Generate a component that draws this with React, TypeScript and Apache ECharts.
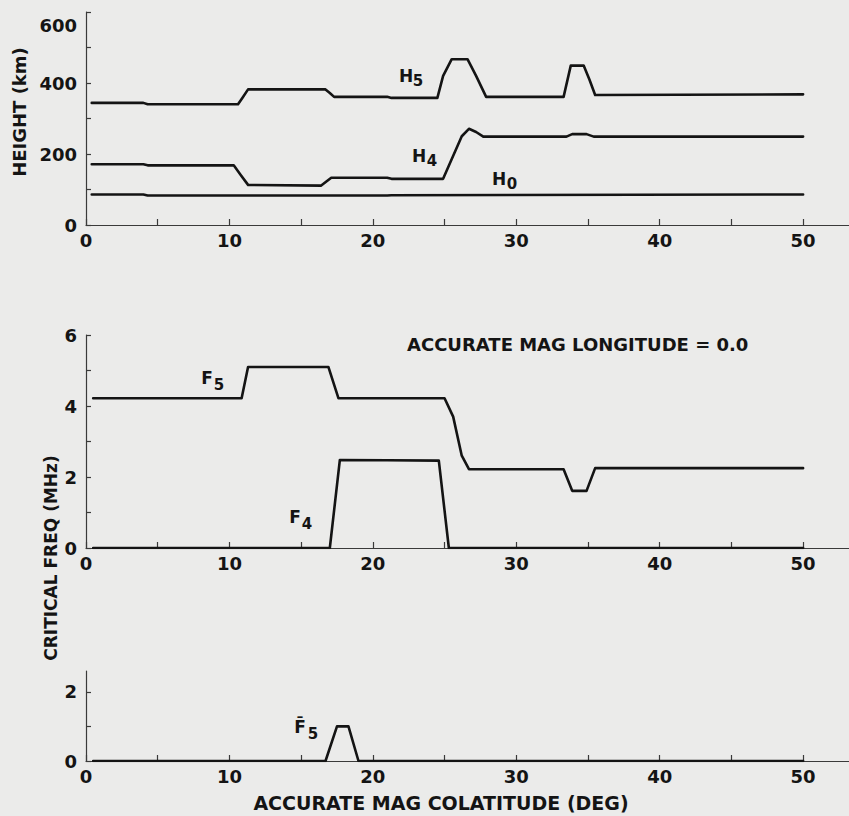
import React, { useEffect, useRef } from "react";
import * as echarts from "echarts";

// ---- Data ----
// Top panel: HEIGHT (km) vs colatitude
const H5_X = [0.4, 4.0, 4.3, 10.6, 10.9, 11.3, 16.7, 17.0, 17.3, 21.0, 21.3, 24.5, 24.9, 25.5, 26.6, 27.2, 27.9, 33.3, 33.8, 34.7, 35.1, 35.5, 50];
const H5_Y = [344, 344, 340, 340, 358, 382, 382, 372, 361, 361, 358, 358, 420, 467, 467, 420, 361, 361, 449, 449, 410, 366, 368];
const H4_X = [0.4, 4.0, 4.3, 10.3, 10.8, 11.3, 16.4, 17.1, 21.0, 21.3, 24.9, 26.2, 26.7, 27.2, 27.7, 33.5, 33.9, 34.9, 35.4, 50];
const H4_Y = [171, 171, 168, 168, 140, 113, 111, 133, 133, 130, 130, 250, 271, 262, 249, 249, 256, 256, 249, 249];
const H0_X = [0.4, 4.0, 4.3, 21.0, 21.3, 50];
const H0_Y = [86, 86, 83, 83, 84, 86];

// Middle panel: CRITICAL FREQ (MHz)
const F5_X = [0.5, 10.85, 11.3, 16.9, 17.6, 25.0, 25.6, 26.2, 26.7, 33.3, 33.9, 34.9, 35.5, 50];
const F5_Y = [4.22, 4.22, 5.1, 5.1, 4.22, 4.22, 3.7, 2.6, 2.22, 2.22, 1.61, 1.61, 2.25, 2.25];
const F4_X = [0.5, 17.0, 17.7, 21.0, 24.6, 25.3, 50];
const F4_Y = [0, 0, 2.48, 2.47, 2.46, 0, 0];

// Bottom panel: F-bar 5
const FB5_X = [0.5, 16.7, 17.5, 18.3, 19.0, 50];
const FB5_Y = [0, 0, 1.0, 1.0, 0, 0];

// Axis ticks / labels
const X_TICKS = [0, 5, 10, 15, 20, 25, 30, 35, 40, 45, 50];
const X_LABELS = [0, 10, 20, 30, 40, 50];
const TOP_Y_TICKS = [0, 100, 200, 300, 400, 500, 600];
const TOP_Y_LABELS = [0, 200, 400, 600];
const MID_Y_TICKS = [0, 1, 2, 3, 4, 5, 6];
const MID_Y_LABELS = [0, 2, 4, 6];
const BOT_Y_TICKS = [0, 1, 2];
const BOT_Y_LABELS = [0, 2];

const BG = "#ebebea";
const INK = "#141414";
const AXIS = "#3a3a3a";
const FONT = "DejaVu Sans";

const pairs = (xs: number[], ys: number[]) => xs.map((x, i) => [x, ys[i]]);

function xAxisCfg(gridIndex: number) {
  return {
    type: "value",
    gridIndex,
    min: 0,
    max: 53.2,
    axisLine: { show: true, lineStyle: { color: AXIS, width: 1.2 } },
    axisTick: { show: true, inside: true, length: 6, customValues: X_TICKS, lineStyle: { color: AXIS, width: 1.2 } },
    axisLabel: {
      show: true,
      customValues: X_LABELS,
      margin: 6,
      color: INK,
      fontFamily: FONT,
      fontWeight: "bold",
      fontSize: 18,
    },
    splitLine: { show: false },
  };
}

function yAxisCfg(gridIndex: number, max: number, ticks: number[], labels: number[], lowerTop = false) {
  return {
    type: "value",
    gridIndex,
    min: 0,
    max,
    axisLine: { show: true, lineStyle: { color: AXIS, width: 1.2 } },
    axisTick: { show: true, inside: true, length: 5, customValues: ticks, lineStyle: { color: AXIS, width: 1.2 } },
    axisLabel: {
      show: true,
      customValues: labels,
      margin: 9,
      color: INK,
      fontFamily: FONT,
      fontWeight: "bold",
      fontSize: 18,
      formatter: (v: number) => (lowerTop && v === max ? `{low|${v}}` : String(v)),
      rich: {
        low: { padding: [26, 0, 0, 0], fontFamily: FONT, fontWeight: "bold", fontSize: 18, color: INK },
      },
    },
    splitLine: { show: false },
  };
}

function lineSeries(name: string, data: number[][], axis: number) {
  return {
    name,
    type: "line",
    xAxisIndex: axis,
    yAxisIndex: axis,
    data,
    showSymbol: false,
    symbol: "none",
    smooth: false,
    lineStyle: { color: INK, width: 2.6, cap: "round", join: "round" },
    silent: true,
  };
}

function txt(text: string, x: number, y: number, size: number, extra: any = {}) {
  return {
    type: "text",
    x,
    y,
    silent: true,
    style: {
      text,
      fill: INK,
      font: `bold ${size}px "${FONT}"`,
      align: "center",
      verticalAlign: "middle",
      ...extra,
    },
  };
}

export default function App() {
  const ref = useRef<HTMLDivElement>(null);

  useEffect(() => {
    const chart = echarts.init(ref.current!, null, { renderer: "svg" });
    const option: any = {
      animation: false,
      backgroundColor: BG,
      grid: [
        { left: 86, top: 12, width: 763, height: 213 },
        { left: 86, top: 335, width: 763, height: 213 },
        { left: 86, top: 671, width: 763, height: 90 },
      ],
      xAxis: [xAxisCfg(0), xAxisCfg(1), xAxisCfg(2)],
      yAxis: [
        yAxisCfg(0, 600, TOP_Y_TICKS, TOP_Y_LABELS, true),
        yAxisCfg(1, 6, MID_Y_TICKS, MID_Y_LABELS),
        yAxisCfg(2, 2.6, BOT_Y_TICKS, BOT_Y_LABELS),
      ],
      series: [
        lineSeries("H5", pairs(H5_X, H5_Y), 0),
        lineSeries("H4", pairs(H4_X, H4_Y), 0),
        lineSeries("H0", pairs(H0_X, H0_Y), 0),
        lineSeries("F5", pairs(F5_X, F5_Y), 1),
        lineSeries("F4", pairs(F4_X, F4_Y), 1),
        lineSeries("F5bar", pairs(FB5_X, FB5_Y), 2),
      ],
      graphic: [
        { ...txt("HEIGHT (km)", 19, 112, 18), rotation: Math.PI / 2 },
        { ...txt("CRITICAL FREQ (MHz)", 51, 558, 17), rotation: Math.PI / 2 },
        txt("ACCURATE MAG LONGITUDE = 0.0", 407, 344, 18, { align: "left" }),
        txt("ACCURATE MAG COLATITUDE (DEG)", 441, 803, 19),
        // curve labels with subscripts
        txt("H", 406, 76, 17),
        txt("5", 418, 81, 15),
        txt("H", 419, 156, 17),
        txt("4", 432, 161, 15),
        txt("H", 499, 179, 17),
        txt("0", 512, 184, 15),
        txt("F", 207, 378, 17),
        txt("5", 219, 385, 15),
        txt("F", 295, 517, 17),
        txt("4", 307, 524, 15),
        txt("F\u0304", 300, 727, 17),
        txt("5", 313, 734, 15),
      ],
    };
    chart.setOption(option);
    return () => chart.dispose();
  }, []);

  return (
    <div
      ref={ref}
      style={{ position: "absolute", left: 0, top: 0, width: 849, height: 816, background: BG }}
    />
  );
}
